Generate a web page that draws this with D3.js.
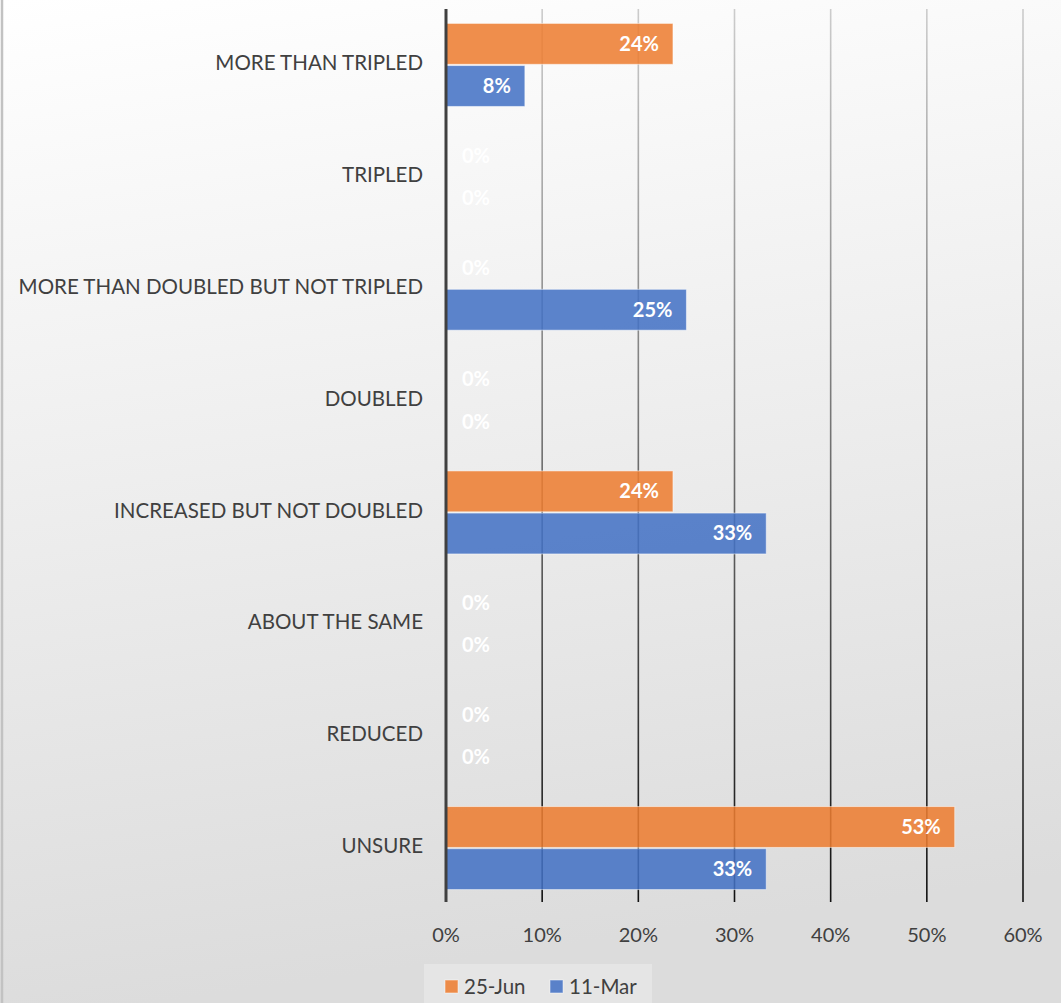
<!DOCTYPE html>
<html>
<head>
<meta charset="utf-8">
<script src="https://cdn.jsdelivr.net/npm/d3@7"></script>
<style>
  html, body { margin: 0; padding: 0; background: #fff; }
  svg { display: block; }
</style>
</head>
<body>
<div id="drawingfield"></div>
<script>
// categories top to bottom
var categories = ["MORE THAN TRIPLED", "TRIPLED", "MORE THAN DOUBLED BUT NOT TRIPLED", "DOUBLED",
  "INCREASED BUT NOT DOUBLED", "ABOUT THE SAME", "REDUCED", "UNSURE"];
var seriesNames = ["25-Jun", "11-Mar"];
var jun25 = [0.236, 0, 0, 0, 0.236, 0, 0, 0.529];
var mar11 = [0.082, 0, 0.25, 0, 0.333, 0, 0, 0.333];
var tickValues = [0, 0.1, 0.2, 0.3, 0.4, 0.5, 0.6];
var colors = ["#ED7D31", "#4472C4"];

var width = 1061, height = 1003;

var svg = d3.select("#drawingfield")
  .append("svg")
  .attr("width", width)
  .attr("height", height);

var defs = svg.append("defs");

// background gradient, white top to light gray bottom
var bg = defs.append("linearGradient").attr("id", "bg")
  .attr("x1", "0").attr("y1", "0").attr("x2", "0.15").attr("y2", "1");
bg.append("stop").attr("offset", "0%").attr("stop-color", "#ffffff");
bg.append("stop").attr("offset", "100%").attr("stop-color", "#dcdcdc");

// gridlines fade from light gray to black
var gg = defs.append("linearGradient").attr("id", "grid")
  .attr("gradientUnits", "userSpaceOnUse")
  .attr("x1", 0).attr("y1", 9).attr("x2", 0).attr("y2", 902);
gg.append("stop").attr("offset", "0%").attr("stop-color", "#cccccc");
gg.append("stop").attr("offset", "100%").attr("stop-color", "#111111");

svg.append("rect").attr("width", width).attr("height", height).attr("fill", "url(#bg)");
svg.append("line").attr("x1", 2).attr("x2", 2).attr("y1", 0).attr("y2", height)
  .attr("stroke", "#c2c2c2").attr("stroke-width", 2.5);

var x = d3.scaleLinear().domain([0, 0.6]).range([446, 1023]);
var y = d3.scaleBand().domain(categories).range([9, 904]).paddingInner(0.258).paddingOuter(0.129);
var ySub = d3.scaleBand().domain(seriesNames).range([0, y.bandwidth()]).paddingInner(0.03);

var fmt = d3.format(".0%");
var font = "Lato, 'Open Sans', sans-serif";

// gridlines (extend below plot as tick marks)
svg.append("g").selectAll("line")
  .data(tickValues.slice(1))
  .enter().append("line")
  .attr("x1", function(d){ return x(d); })
  .attr("x2", function(d){ return x(d); })
  .attr("y1", 9).attr("y2", 902)
  .attr("stroke", "url(#grid)")
  .attr("stroke-width", 1.6);

// bars
var rows = categories.map(function(c, i){
  return { cat: c, vals: [jun25[i], mar11[i]] };
});

var groups = svg.selectAll(".row")
  .data(rows)
  .enter().append("g")
  .attr("class", "row")
  .attr("transform", function(d){ return "translate(0," + y(d.cat) + ")"; });

groups.selectAll("rect")
  .data(function(d){ return d.vals.map(function(v, j){ return { v: v, s: seriesNames[j], c: colors[j] }; }); })
  .enter().append("rect")
  .filter(function(d){ return d.v > 0; })
  .attr("x", x(0))
  .attr("y", function(d){ return ySub(d.s); })
  .attr("width", function(d){ return x(d.v) - x(0); })
  .attr("height", ySub.bandwidth())
  .attr("fill", function(d){ return d.c; })
  .attr("fill-opacity", 0.87)
  .attr("stroke", "#ffffff")
  .attr("stroke-opacity", 0.5)
  .attr("stroke-width", 1);

// data labels
groups.selectAll("text")
  .data(function(d){ return d.vals.map(function(v, j){ return { v: v, s: seriesNames[j] }; }); })
  .enter().append("text")
  .attr("x", function(d){ return d.v > 0 ? x(d.v) - 14 : x(0) + 16; })
  .attr("y", function(d){ return ySub(d.s) + ySub.bandwidth() / 2; })
  .attr("dy", "0.35em")
  .attr("text-anchor", function(d){ return d.v > 0 ? "end" : "start"; })
  .attr("fill", "#ffffff")
  .attr("font-family", font)
  .attr("font-weight", "bold")
  .attr("font-size", 20)
  .text(function(d){ return fmt(d.v); });

// vertical category axis
svg.append("line")
  .attr("x1", x(0)).attr("x2", x(0))
  .attr("y1", 9).attr("y2", 902)
  .attr("stroke", "#404040").attr("stroke-width", 3);

svg.append("g").selectAll("text")
  .data(categories)
  .enter().append("text")
  .attr("x", 423)
  .attr("y", function(d){ return y(d) + y.bandwidth() / 2 - 2; })
  .attr("dy", "0.35em")
  .attr("text-anchor", "end")
  .attr("fill", "#404040")
  .attr("font-family", font)
  .attr("font-size", 20.5)
  .text(function(d){ return d; });

// value axis tick labels
svg.append("g").selectAll("text")
  .data(tickValues)
  .enter().append("text")
  .attr("x", function(d){ return x(d); })
  .attr("y", 935)
  .attr("dy", "0.35em")
  .attr("text-anchor", "middle")
  .attr("fill", "#404040")
  .attr("font-family", font)
  .attr("font-size", 20)
  .text(function(d){ return fmt(d); });

// legend
var legend = svg.append("g");
legend.append("rect")
  .attr("x", 424).attr("y", 964).attr("width", 228).attr("height", 45)
  .attr("fill", "#ffffff").attr("fill-opacity", 0.25);

var legendX = [445, 550];
seriesNames.forEach(function(s, i){
  legend.append("rect")
    .attr("x", legendX[i]).attr("y", 980)
    .attr("width", 13).attr("height", 13)
    .attr("fill", colors[i]).attr("fill-opacity", 0.87)
    .attr("stroke", "#ffffff").attr("stroke-opacity", 0.5);
  legend.append("text")
    .attr("x", legendX[i] + 19).attr("y", 987)
    .attr("dy", "0.35em")
    .attr("fill", "#404040")
    .attr("font-family", font)
    .attr("font-size", 20.5)
    .text(s);
});
</script>
</body>
</html>
